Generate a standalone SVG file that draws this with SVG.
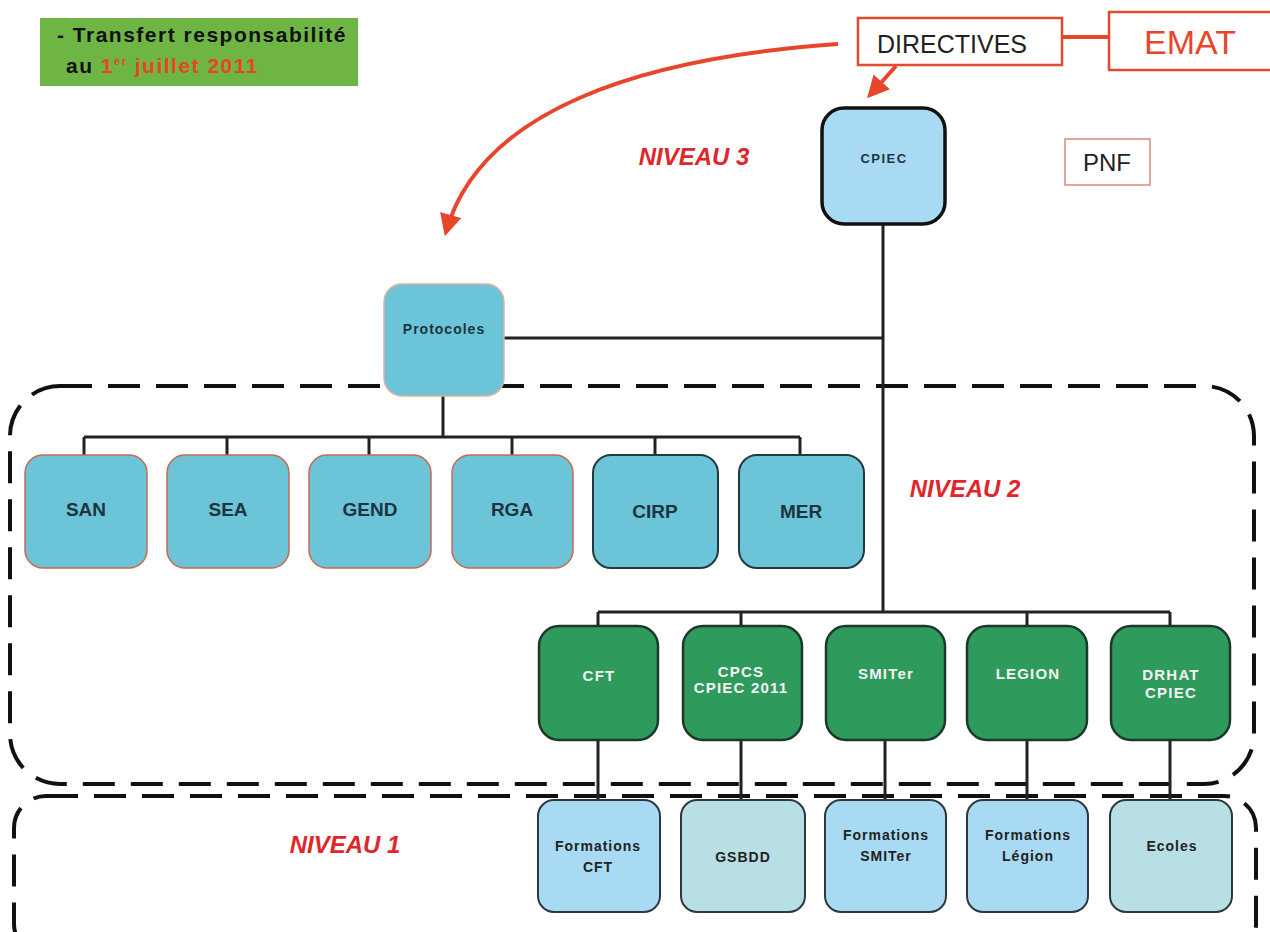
<svg xmlns="http://www.w3.org/2000/svg" width="1270" height="932" viewBox="0 0 1270 932">
<style>
.lbl{font-family:"Liberation Sans",Arial,sans-serif;font-weight:bold;text-anchor:middle}
.n2{fill:#6cc4d8;stroke:#c86a50;stroke-width:1.5}
.n2b{fill:#6cc4d8;stroke:#1f3b40;stroke-width:2}
.g{fill:#2e9a5c;stroke:#1c3a2a;stroke-width:2.5}
.b1{fill:#a8daf3;stroke:#2a3a40;stroke-width:2}
.b2{fill:#b8dfe4;stroke:#2a3a40;stroke-width:2}
.wt{fill:#f4f4f4;font-size:15px;letter-spacing:1.2px}
.dk{fill:#1d3440;font-size:19px}
.sm{fill:#222;font-size:14px;letter-spacing:1px}
.niv{font-family:"Liberation Sans",Arial,sans-serif;font-weight:bold;font-style:italic;fill:#e0262a;font-size:24px;text-anchor:middle}
.ln{stroke:#222;stroke-width:3;fill:none}
.dash{fill:none;stroke:#111;stroke-width:4;stroke-dasharray:32 16}
.red{stroke:#e8452b;stroke-width:4;fill:none}
</style>
<defs>
<marker id="ah" viewBox="0 0 10 10" refX="8" refY="5" markerWidth="5.5" markerHeight="5.5" orient="auto">
<path d="M0,0 L10,5 L0,10 z" fill="#e8452b"/>
</marker>
</defs>
<rect width="1270" height="932" fill="#fff"/>

<g id="levels">
<rect class="dash" x="10" y="386" width="1244" height="398" rx="50"/>
<rect class="dash" x="14" y="796" width="1242" height="160" rx="32"/>
<text class="niv" x="694" y="165">NIVEAU 3</text>
<text class="niv" x="965" y="497">NIVEAU 2</text>
<text class="niv" x="345" y="853">NIVEAU 1</text>
</g>

<g id="connectors">
<path class="red" d="M838,44 C640,58 480,110 446,232" marker-end="url(#ah)"/>
<path class="red" d="M896,66 L870,95" marker-end="url(#ah)"/>
<line class="red" x1="1062" y1="37" x2="1108" y2="37" stroke-width="3"/>
<path class="ln" d="M883,224 V612"/>
<path class="ln" d="M504,338 H883"/>
<path class="ln" d="M443,396 V437 M84,437 H800 M84,437 V455 M227,437 V455 M369,437 V455 M512,437 V455 M655,437 V455 M800,437 V455"/>
<path class="ln" d="M598,612 H1170 M598,612 V626 M741,612 V626 M1027,612 V626 M1170,612 V626"/>
<path class="ln" d="M598,740 V800 M741,740 V800 M885,740 V800 M1027,740 V800 M1170,740 V800"/>
</g>

<g id="note">
<rect x="40" y="18" width="318" height="68" fill="#6fb544"/>
<text font-family="Liberation Sans,Arial,sans-serif" font-weight="bold" font-size="21" letter-spacing="1.5" fill="#111" x="57" y="42">- Transfert responsabilité</text>
<text font-family="Liberation Sans,Arial,sans-serif" font-weight="bold" font-size="21" letter-spacing="1.5" x="66" y="73"><tspan fill="#111">au </tspan><tspan fill="#e8442a">1</tspan><tspan fill="#e8442a" font-size="11" dy="-8">er</tspan><tspan fill="#e8442a" dy="8"> juillet 2011</tspan></text>
</g>

<g id="directives">
<rect x="858" y="18" width="204" height="47" fill="#fff" stroke="#e04a2f" stroke-width="2.5"/>
<text font-family="Liberation Sans,Arial,sans-serif" font-size="25" fill="#222" x="952" y="53" text-anchor="middle">DIRECTIVES</text>
</g>
<g id="emat">
<rect x="1109" y="12" width="170" height="58" fill="#fff" stroke="#e04a2f" stroke-width="2.5"/>
<text font-family="Liberation Sans,Arial,sans-serif" font-size="34" fill="#e8452b" x="1190" y="54" text-anchor="middle">EMAT</text>
</g>
<g id="pnf">
<rect x="1065" y="139" width="85" height="46" fill="#fff" stroke="#d88a78" stroke-width="1.5"/>
<text font-family="Liberation Sans,Arial,sans-serif" font-size="24" fill="#222" x="1107" y="171" text-anchor="middle">PNF</text>
</g>

<g id="cpiec">
<rect x="822" y="108" width="123" height="116" rx="22" fill="#a8daf3" stroke="#111" stroke-width="3.5"/>
<text class="lbl" font-size="13" letter-spacing="1.5" fill="#1d3440" x="884" y="163">CPIEC</text>
</g>
<g id="protocoles">
<rect x="384" y="284" width="120" height="112" rx="18" fill="#6cc4d8" stroke="#e0b0a0" stroke-width="1.5"/>
<text class="lbl" font-size="14" letter-spacing="1" fill="#1d3440" x="444" y="334">Protocoles</text>
</g>

<g id="san"><rect class="n2" x="25" y="455" width="122" height="113" rx="18"/><text class="lbl dk" x="86" y="516">SAN</text></g>
<g id="sea"><rect class="n2" x="167" y="455" width="122" height="113" rx="18"/><text class="lbl dk" x="228" y="516">SEA</text></g>
<g id="gend"><rect class="n2" x="309" y="455" width="122" height="113" rx="18"/><text class="lbl dk" x="370" y="516">GEND</text></g>
<g id="rga"><rect class="n2" x="452" y="455" width="121" height="113" rx="18" stroke="#6cc4d8"/><text class="lbl dk" x="512" y="516">RGA</text></g>
<g id="cirp"><rect class="n2b" x="593" y="455" width="125" height="113" rx="18"/><text class="lbl dk" x="655" y="518">CIRP</text></g>
<g id="mer"><rect class="n2b" x="739" y="455" width="125" height="113" rx="18"/><text class="lbl dk" x="801" y="518">MER</text></g>

<g id="cft"><rect class="g" x="539" y="626" width="119" height="114" rx="20"/><text class="lbl wt" x="599" y="681">CFT</text></g>
<g id="cpcs"><rect class="g" x="683" y="626" width="119" height="114" rx="20"/><text class="lbl wt" font-size="13" letter-spacing="0" x="741" y="677">CPCS</text><text class="lbl wt" font-size="13" letter-spacing="0" x="741" y="693">CPIEC 2011</text></g>
<g id="smiter"><rect class="g" x="826" y="626" width="119" height="114" rx="20"/><text class="lbl wt" x="886" y="679">SMITer</text></g>
<g id="legion"><rect class="g" x="967" y="626" width="120" height="114" rx="20"/><text class="lbl wt" x="1028" y="679">LEGION</text></g>
<g id="drhat"><rect class="g" x="1111" y="626" width="119" height="114" rx="20"/><text class="lbl wt" x="1171" y="680">DRHAT</text><text class="lbl wt" x="1171" y="698">CPIEC</text></g>

<g id="fcft"><rect class="b1" x="538" y="800" width="122" height="112" rx="16"/><text class="lbl sm" x="598" y="851">Formations</text><text class="lbl sm" x="598" y="872">CFT</text></g>
<g id="gsbdd"><rect class="b2" x="681" y="800" width="124" height="112" rx="16"/><text class="lbl sm" letter-spacing="2" x="743" y="862">GSBDD</text></g>
<g id="fsmiter"><rect class="b1" x="825" y="800" width="121" height="112" rx="16"/><text class="lbl sm" x="886" y="840">Formations</text><text class="lbl sm" x="886" y="861">SMITer</text></g>
<g id="flegion"><rect class="b1" x="967" y="800" width="121" height="112" rx="16"/><text class="lbl sm" x="1028" y="840">Formations</text><text class="lbl sm" x="1028" y="861">Légion</text></g>
<g id="ecoles"><rect class="b2" x="1110" y="800" width="122" height="112" rx="16"/><text class="lbl sm" x="1172" y="851">Ecoles</text></g>
</svg>
